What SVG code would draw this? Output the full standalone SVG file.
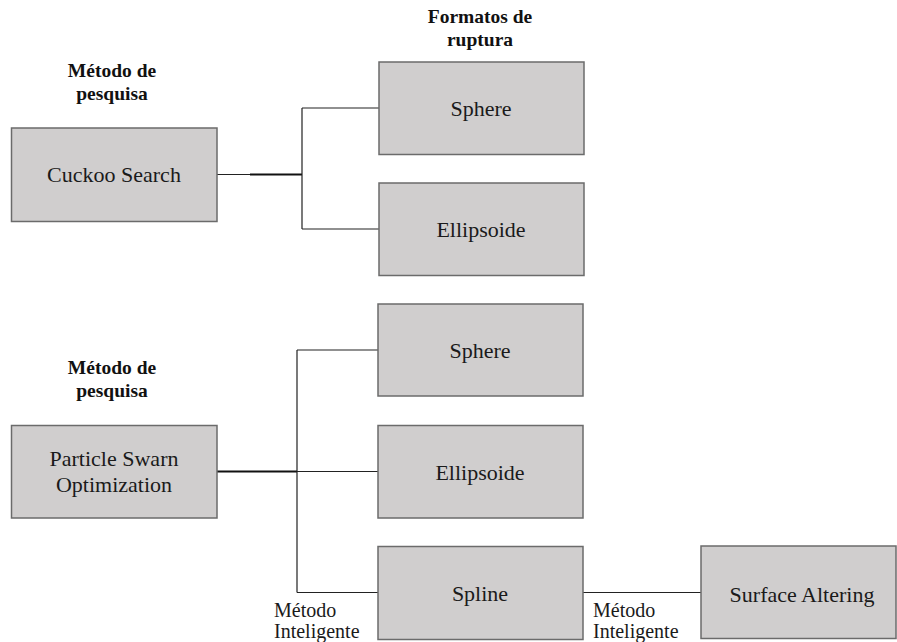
<svg xmlns="http://www.w3.org/2000/svg" width="897" height="642" viewBox="0 0 897 642">
<style>
.box{fill:#d0cece;stroke:#6b6b6b;stroke-width:1.5}
text{font-family:'Liberation Serif','Times New Roman','DejaVu Serif',serif}
.t{font-size:22px;fill:#1a1a1a;text-anchor:middle}
.h{font-size:19.5px;font-weight:bold;fill:#111;text-anchor:middle}
.l{font-size:20px;fill:#1a1a1a}
.c{fill:none;stroke:#222;stroke-width:1.2}
.ck{fill:none;stroke:#111;stroke-width:2}
</style>
<rect width="897" height="642" fill="#ffffff"/>
<g id="labels" font-family="Liberation Serif, DejaVu Serif, serif">
<text class="h" x="480" y="23">Formatos de</text>
<text class="h" x="480" y="46">ruptura</text>
<text class="h" x="112" y="77">Método de</text>
<text class="h" x="112" y="100">pesquisa</text>
<text class="h" x="112" y="374">Método de</text>
<text class="h" x="112" y="397">pesquisa</text>
<text class="l" x="274" y="617">Método</text>
<text class="l" x="274" y="638">Inteligente</text>
<text class="l" x="593" y="617">Método</text>
<text class="l" x="593" y="638">Inteligente</text>
</g>
<g id="connectors">
<path class="c" d="M217 174.5H250"/>
<path class="ck" d="M250 174.5H302"/>
<path class="c" d="M302 108V229M302 108H379M302 229H379"/>
<path class="ck" d="M217 471.5H297"/>
<path class="c" d="M297 471.5H378M297 350V592.5M297 350H378M297 592.5H378"/>
<path class="c" d="M583 592.5H701"/>
</g>
<g id="cuckoo"><rect class="box" x="11.5" y="128" width="205.5" height="93.5"/><text class="t" x="114" y="182">Cuckoo Search</text></g>
<g id="sphere1"><rect class="box" x="379" y="62" width="205" height="92.5"/><text class="t" x="481" y="116">Sphere</text></g>
<g id="ellipsoide1"><rect class="box" x="379" y="183" width="205" height="92.5"/><text class="t" x="481" y="237">Ellipsoide</text></g>
<g id="pso"><rect class="box" x="11.5" y="425.5" width="205.5" height="92.5"/><text class="t" x="114" y="466">Particle Swarn</text><text class="t" x="114" y="492">Optimization</text></g>
<g id="sphere2"><rect class="box" x="378" y="304" width="205" height="92"/><text class="t" x="480" y="358">Sphere</text></g>
<g id="ellipsoide2"><rect class="box" x="378" y="425.5" width="205" height="92.5"/><text class="t" x="480" y="480">Ellipsoide</text></g>
<g id="spline"><rect class="box" x="378" y="546.5" width="205" height="93"/><text class="t" x="480" y="601">Spline</text></g>
<g id="surface"><rect class="box" x="701" y="546" width="195" height="92.5"/><text class="t" x="802" y="602">Surface Altering</text></g>
</svg>
